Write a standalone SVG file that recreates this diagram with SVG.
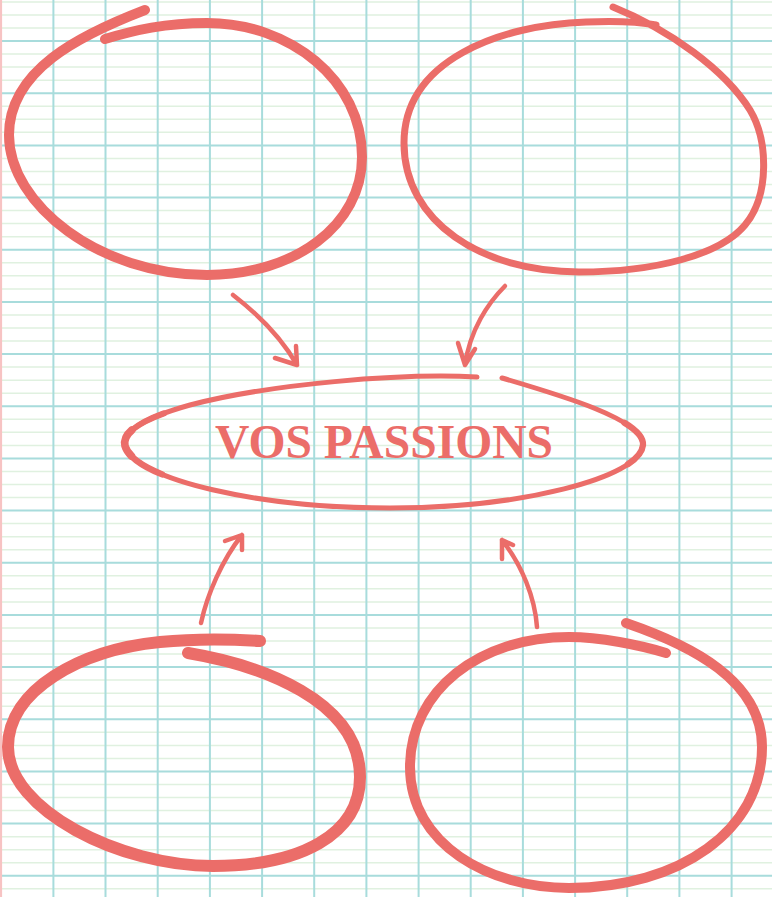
<svg xmlns="http://www.w3.org/2000/svg" width="772" height="897" viewBox="0 0 772 897">
<style>
.minor{stroke:#e0f1e0;stroke-width:1.5;fill:none}
.major{stroke:#a8dcdc;stroke-width:2;fill:none}
.ink{stroke:#eb6d69;fill:none;stroke-linecap:round;stroke-linejoin:round}
.label{font-family:"Liberation Serif","Times New Roman",serif;font-weight:bold;font-size:48px;fill:#eb6d69}
</style>
<rect width="772" height="897" fill="#ffffff"/>
<g id="grid">
<path class="minor" d="M0 1.9H772M0 14.9H772M0 28H772M0 54.1H772M0 67.1H772M0 80.2H772M0 106.2H772M0 119.3H772M0 132.3H772M0 158.4H772M0 171.5H772M0 184.5H772M0 210.6H772M0 223.6H772M0 236.7H772M0 262.8H772M0 275.8H772M0 288.9H772M0 314.9H772M0 328H772M0 341H772M0 367.1H772M0 380.2H772M0 393.2H772M0 419.3H772M0 432.3H772M0 445.4H772M0 471.5H772M0 484.5H772M0 497.5H772M0 523.6H772M0 536.7H772M0 549.7H772M0 575.8H772M0 588.8H772M0 601.9H772M0 628H772M0 641H772M0 654.1H772M0 680.1H772M0 693.2H772M0 706.2H772M0 732.3H772M0 745.4H772M0 758.4H772M0 784.5H772M0 797.5H772M0 810.6H772M0 836.7H772M0 849.7H772M0 862.7H772M0 888.8H772"/>
<path class="major" d="M53.4 0V897M105.5 0V897M157.7 0V897M209.9 0V897M262.1 0V897M314.2 0V897M366.4 0V897M418.6 0V897M470.7 0V897M522.9 0V897M575.1 0V897M627.2 0V897M679.4 0V897M731.6 0V897"/>
<path class="major" d="M0 41H772M0 93.2H772M0 145.4H772M0 197.5H772M0 249.7H772M0 301.9H772M0 354.1H772M0 406.2H772M0 458.4H772M0 510.6H772M0 562.8H772M0 614.9H772M0 667.1H772M0 719.3H772M0 771.4H772M0 823.6H772M0 875.8H772"/>
<path d="M1 0V897" stroke="#f7c3c3" stroke-width="2.2"/>
</g>
<g id="node-top-left">
<path class="ink" stroke-width="10" d="M145,10 C 80,35 9,70 9,135 C 9,205 100,275 207,275 C 295,275 362,225 362,157 C 362,80 290,23 207,23 C 165,23 135,30 105,39"/>
</g>
<g id="node-top-right">
<path class="ink" stroke-width="7" d="M656,25 C 640,22 610,21 586,22 C 500,25 404,60 404,143 C 404,222 482,272 579,272 C 655,272 720,255 745,225 C 770,195 768,140 750,110 C 725,70 670,30 613,7"/>
</g>
<g id="node-center">
<path class="ink" stroke-width="5" d="M477,377 C 400,373 270,384 190,405 C 140,419 122,433 125,446 C 135,480 260,508 390,508 C 520,508 640,478 643,445 C 645,420 560,395 502,378"/>
<path class="ink" stroke-width="6.3" d="M163.8,413.4 C 133.6,424.6 122.6,435.6 125,446 C 128,456.2 141.4,465.9 162.1,474.4"/>
<path class="ink" stroke-width="7.6" d="M131.9,430 C 125.6,435.4 123.8,440.8 125,446 C 126,449.4 128.2,452.7 131.4,456"/>
<path class="ink" stroke-width="6.3" d="M628,464.2 C 637.1,458.1 642.4,451.6 643,445 C 643.6,437.5 636.4,430 624.4,422.7"/>
<text class="label" x="215" y="458" textLength="338" lengthAdjust="spacingAndGlyphs">VOS PASSIONS</text>
</g>
<g id="node-bottom-left">
<path class="ink" stroke-width="12" d="M260,641 C 230,639 190,639 160,642 C 80,650 8,690 8,747 C 8,810 120,866 213,866 C 300,866 360,835 360,777 C 360,700 260,665 188,653"/>
</g>
<g id="node-bottom-right">
<path class="ink" stroke-width="10" d="M666,653 C 640,645 600,637 569,637 C 480,637 410,690 410,767 C 410,845 490,888 569,888 C 680,888 762,830 762,747 C 762,680 690,645 626,623"/>
</g>
<g id="connectors">
<path class="ink" stroke-width="4.5" d="M233,295 C 255,312 280,335 297,365 M275,358 L297,365 L296,346"/>
<path class="ink" stroke-width="4.5" d="M505,286 C 488,303 470,330 465,365 M458,343 L465,365 L475,349"/>
<path class="ink" stroke-width="4.5" d="M201,623 C 207,595 222,560 242,535 M225,541 L242,535 L242,550"/>
<path class="ink" stroke-width="4.5" d="M537,627 C 535,598 522,565 502,540 M513,545 L502,540 L502,559"/>
</g>
</svg>
